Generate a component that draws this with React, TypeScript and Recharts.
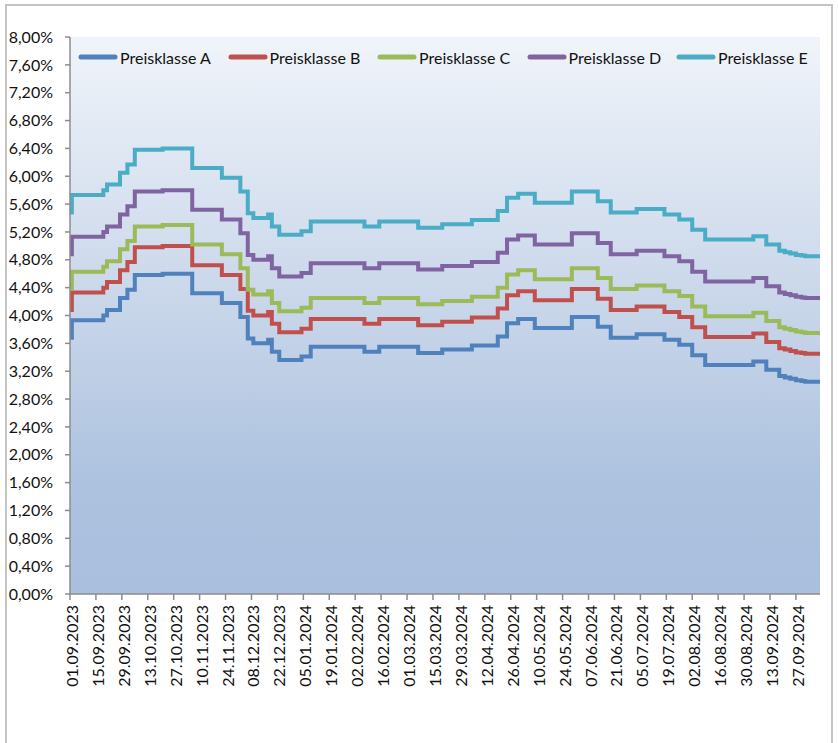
import { CartesianGrid, Legend, Line, LineChart, XAxis, YAxis } from "recharts";

const START = Date.UTC(2023, 8, 1);
const toDay = (s: string) => {
  const [d, m, y] = s.split(".").map(Number);
  return Math.round((Date.UTC(y, m - 1, d) - START) / 86400000);
};

const xTickLabels = [
  "01.09.2023", "15.09.2023", "29.09.2023", "13.10.2023", "27.10.2023", "10.11.2023",
  "24.11.2023", "08.12.2023", "22.12.2023", "05.01.2024", "19.01.2024", "02.02.2024",
  "16.02.2024", "01.03.2024", "15.03.2024", "29.03.2024", "12.04.2024", "26.04.2024",
  "10.05.2024", "24.05.2024", "07.06.2024", "21.06.2024", "05.07.2024", "19.07.2024",
  "02.08.2024", "16.08.2024", "30.08.2024", "13.09.2024", "27.09.2024",
];

const yTicks = [0, 0.4, 0.8, 1.2, 1.6, 2.0, 2.4, 2.8, 3.2, 3.6, 4.0, 4.4, 4.8, 5.2, 5.6, 6.0, 6.4, 6.8, 7.2, 7.6, 8.0];

// days since 01.09.2023 where the rates change
const stepDays = [
  0, 1, 18, 20, 27, 31, 35, 50, 66, 82,
  92, 96, 99, 107, 109, 113, 125, 130, 159, 167,
  188, 201, 217, 231, 236, 242, 251, 271, 285, 292,
  306, 321, 329, 336, 343, 369, 376, 383, 386, 389,
  392, 395, 397, 405,
];

const preisklasseA = [
  3.68, 3.93, 4.0, 4.08, 4.25, 4.37, 4.58, 4.6, 4.32, 4.18,
  3.98, 3.67, 3.6, 3.65, 3.48, 3.36, 3.41, 3.55, 3.48, 3.55,
  3.46, 3.51, 3.57, 3.7, 3.89, 3.95, 3.82, 3.98, 3.84, 3.68,
  3.73, 3.65, 3.58, 3.43, 3.29, 3.34, 3.22, 3.13, 3.11, 3.09,
  3.07, 3.06, 3.05, 3.05,
];
const preisklasseB = [
  4.08, 4.33, 4.4, 4.48, 4.65, 4.77, 4.98, 5.0, 4.72, 4.58,
  4.38, 4.07, 4.0, 4.05, 3.88, 3.76, 3.81, 3.95, 3.88, 3.95,
  3.86, 3.91, 3.97, 4.1, 4.29, 4.35, 4.22, 4.38, 4.24, 4.08,
  4.13, 4.05, 3.98, 3.83, 3.69, 3.74, 3.62, 3.53, 3.51, 3.49,
  3.47, 3.46, 3.45, 3.45,
];
const preisklasseC = [
  4.38, 4.63, 4.7, 4.78, 4.95, 5.07, 5.28, 5.3, 5.02, 4.88,
  4.68, 4.37, 4.3, 4.35, 4.18, 4.06, 4.11, 4.25, 4.18, 4.25,
  4.16, 4.21, 4.27, 4.4, 4.59, 4.65, 4.52, 4.68, 4.54, 4.38,
  4.43, 4.35, 4.28, 4.13, 3.99, 4.04, 3.92, 3.83, 3.81, 3.79,
  3.77, 3.76, 3.75, 3.75,
];
const preisklasseD = [
  4.88, 5.13, 5.2, 5.28, 5.45, 5.57, 5.78, 5.8, 5.52, 5.38,
  5.18, 4.87, 4.8, 4.85, 4.68, 4.56, 4.61, 4.75, 4.68, 4.75,
  4.66, 4.71, 4.77, 4.9, 5.09, 5.15, 5.02, 5.18, 5.04, 4.88,
  4.93, 4.85, 4.78, 4.63, 4.49, 4.54, 4.42, 4.33, 4.31, 4.29,
  4.27, 4.26, 4.25, 4.25,
];
const preisklasseE = [
  5.48, 5.73, 5.8, 5.88, 6.05, 6.17, 6.38, 6.4, 6.12, 5.98,
  5.78, 5.47, 5.4, 5.45, 5.28, 5.16, 5.21, 5.35, 5.28, 5.35,
  5.26, 5.31, 5.37, 5.5, 5.69, 5.75, 5.62, 5.78, 5.64, 5.48,
  5.53, 5.45, 5.38, 5.23, 5.09, 5.14, 5.02, 4.93, 4.91, 4.89,
  4.87, 4.86, 4.85, 4.85,
];

const SERIES = [
  { key: "a", name: "Preisklasse A", color: "#4F81BD", values: preisklasseA },
  { key: "b", name: "Preisklasse B", color: "#C0504D", values: preisklasseB },
  { key: "c", name: "Preisklasse C", color: "#9BBB59", values: preisklasseC },
  { key: "d", name: "Preisklasse D", color: "#8064A2", values: preisklasseD },
  { key: "e", name: "Preisklasse E", color: "#4BACC6", values: preisklasseE },
];

const data = stepDays.map((day, i) => {
  const row: Record<string, number> = { day };
  SERIES.forEach((s) => (row[s.key] = s.values[i]));
  return row;
});

const xTicks = xTickLabels.map(toDay);
const FONT = "Lato, 'Noto Sans', sans-serif";

const pct = (v: number) => v.toFixed(2).replace(".", ",") + "%";

function DateTick(props: any) {
  const { x, y, payload } = props;
  const label = xTickLabels[xTicks.indexOf(payload.value)] ?? "";
  return (
    <text
      x={0}
      y={0}
      transform={`translate(${x + 8}, ${y}) rotate(-90)`}
      textAnchor="end"
      fontSize={16}
      fontFamily={FONT}
      fill="#111"
    >
      {label}
    </text>
  );
}

function LegendRow() {
  return (
    <div style={{ display: "flex", height: 20, alignItems: "center", fontFamily: FONT, fontSize: 16, color: "#111" }}>
      {SERIES.map((s) => (
        <div key={s.key} style={{ width: 149.5, display: "flex", alignItems: "center", flex: "none" }}>
          <svg width={40} height={10} style={{ display: "block" }}>
            <line x1={3} y1={5} x2={37} y2={5} stroke={s.color} strokeWidth={5} strokeLinecap="round" />
          </svg>
          <span style={{ marginLeft: 2, whiteSpace: "nowrap" }}>{s.name}</span>
        </div>
      ))}
    </div>
  );
}

export default function App() {
  return (
    <div style={{ position: "absolute", left: 0, top: 0, width: 838, height: 743, overflow: "hidden", background: "#fff" }}>
      <div
        style={{
          position: "absolute",
          left: 5,
          top: 4,
          width: 828,
          height: 780,
          border: "2px solid #c4c4c4",
          boxSizing: "border-box",
        }}
      />
      <LineChart
        width={838}
        height={743}
        data={data}
        margin={{ top: 37, right: 18, bottom: 0, left: 0 }}
        style={{ position: "absolute", left: 0, top: 0, fontFamily: FONT }}
      >
        <defs>
          <linearGradient id="plotBg" x1="0" y1="0" x2="0" y2="1">
            <stop offset="0%" stopColor="#f0f4fa" />
            <stop offset="50%" stopColor="#c7d5e9" />
            <stop offset="80%" stopColor="#adc2df" />
            <stop offset="100%" stopColor="#a9bfdd" />
          </linearGradient>
        </defs>
        <CartesianGrid horizontal={false} vertical={false} fill="url(#plotBg)" stroke="none" />
        <XAxis
          dataKey="day"
          type="number"
          domain={[0, 405]}
          ticks={xTicks}
          interval={0}
          height={149}
          tickSize={6}
          tickMargin={5}
          axisLine={{ stroke: "#8c8c8c", strokeWidth: 1.5 }}
          tickLine={{ stroke: "#8c8c8c", strokeWidth: 1.5 }}
          tick={<DateTick />}
        />
        <YAxis
          type="number"
          domain={[0, 8]}
          ticks={yTicks}
          interval={0}
          width={70}
          tickSize={5}
          tickMargin={12}
          tickFormatter={pct}
          axisLine={{ stroke: "#8c8c8c", strokeWidth: 1.5 }}
          tickLine={{ stroke: "#8c8c8c", strokeWidth: 1.5 }}
          tick={{ fontSize: 16, fill: "#111", fontFamily: FONT }}
        />
        <Legend
          layout="horizontal"
          verticalAlign="middle"
          align="center"
          wrapperStyle={{ top: 47, left: 78, width: 760 }}
          content={() => <LegendRow />}
        />
        {SERIES.map((s) => (
          <Line
            key={s.key}
            dataKey={s.key}
            name={s.name}
            type="stepAfter"
            stroke={s.color}
            strokeWidth={4}
            dot={false}
            activeDot={false}
            isAnimationActive={false}
          />
        ))}
      </LineChart>
    </div>
  );
}
